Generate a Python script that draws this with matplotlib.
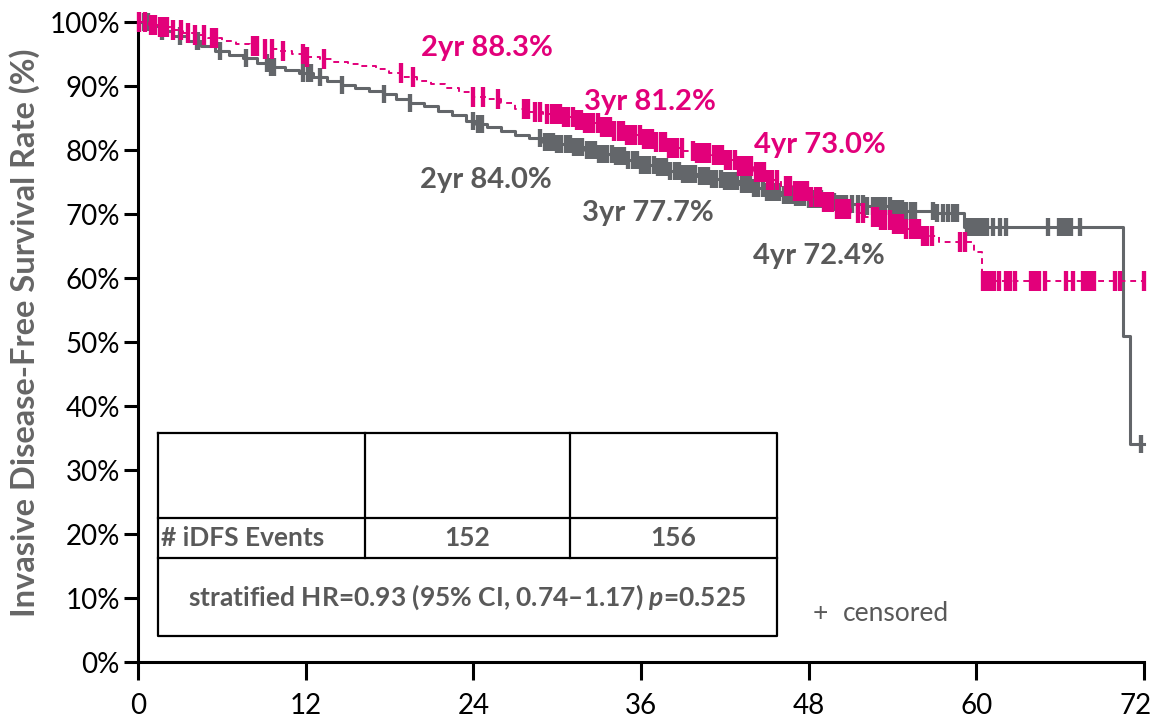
import numpy as np
import matplotlib.pyplot as plt
from matplotlib.transforms import ScaledTranslation

plt.rcParams['font.family'] = ['Lato', 'DejaVu Sans']
plt.rcParams['mathtext.fontset'] = 'custom'
plt.rcParams['mathtext.rm'] = 'Lato:bold'
plt.rcParams['mathtext.it'] = 'Lato:italic:bold'

PINK = "#E2007A"
GREY = "#63666A"
TEXT_GREY = "#595959"

# Kaplan-Meier step points (month, survival %)
grey_t = [0, 0.8, 1.5, 2.5, 3.5, 4.5, 5.5, 6.5, 7.5, 8.5, 9.5, 10.5, 11.5, 12.5,
          13.5, 14.5, 15.5, 16.5, 17.5, 18.5, 19.5, 20.5, 21.5, 22.5, 23.5, 24.2,
          25, 26, 27, 28, 29, 30, 31, 32, 33, 34, 35, 36, 37, 38, 39, 40, 41, 42,
          43, 44, 45, 46, 47, 48, 49, 50, 52, 54, 55, 57, 59.1, 70.5, 71.0, 72.0]
grey_s = [100, 99.3, 98.6, 97.8, 97.0, 96.3, 95.5, 94.9, 94.3, 93.6, 93.0, 92.5,
          92.0, 91.4, 90.8, 90.2, 89.7, 89.2, 88.7, 88.0, 87.4, 86.8, 86.1, 85.4,
          84.6, 84.0, 83.6, 83.0, 82.4, 81.8, 81.3, 80.9, 80.5, 80.0, 79.4, 79.0,
          78.5, 77.7, 77.3, 76.7, 76.2, 75.9, 75.5, 75.2, 74.7, 74.1, 73.5, 73.0,
          72.6, 72.4, 71.8, 71.5, 71.2, 70.8, 70.4, 70.1, 68.0, 51.0, 34.0, 34.0]

pink_t = [0, 0.8, 1.6, 2.4, 3.2, 4.0, 5, 6, 7, 8, 9, 10, 11, 12, 13, 14, 15, 16,
          17, 18, 19, 20, 21, 22, 23, 24, 25, 26, 27, 28, 29, 30.5, 31.2, 32, 33,
          34, 35, 36, 37, 38, 39, 40, 41, 42, 43, 44, 45, 46, 47, 48, 49, 50, 51,
          52, 53, 54, 55, 56, 57.3, 59.8, 60.4, 72.0]
pink_s = [100, 99.6, 99.2, 98.7, 98.3, 97.9, 97.5, 97.0, 96.6, 96.2, 95.8, 95.4,
          95.0, 94.6, 94.2, 93.8, 93.5, 93.1, 92.6, 92.0, 91.4, 90.8, 90.3, 89.7,
          89.1, 88.3, 88.0, 87.4, 86.4, 85.9, 85.6, 85.2, 84.7, 84.2, 83.6, 83.0,
          82.4, 81.7, 81.2, 80.3, 79.8, 79.5, 79.2, 78.4, 77.5, 76.5, 75.3, 74.4,
          73.6, 72.6, 71.8, 70.8, 70.2, 69.6, 69.0, 68.4, 67.6, 66.6, 65.6, 64.0,
          59.6, 59.6]

# censoring times (months)
grey_cens = [0.4, 0.7, 1.0, 1.7, 3.0, 4.2, 4.3, 5.9, 7.7, 9.2, 9.5, 9.7, 11.8,
             12.2, 12.4, 13.0, 14.6, 17.6, 19.5, 24.0, 24.3, 24.6,
             28.8, 29.1, 29.4, 29.7, 30.0, 30.3, 30.6, 30.9, 31.2, 31.5, 31.8,
             32.1, 32.4, 32.7, 33.0, 33.3, 33.6, 33.9, 34.2, 34.5, 34.8, 35.1,
             35.4, 35.7, 36.0, 36.3, 36.6, 36.9, 37.2, 37.5, 37.8, 38.1, 38.4,
             38.7, 39.0, 39.3, 39.6, 39.9, 40.2, 40.5, 40.8, 41.1, 41.4, 41.7,
             42.0, 42.3, 42.6, 42.9, 43.2, 43.5, 43.8, 44.1, 44.4, 44.7, 45.0,
             45.3, 45.6, 45.9, 46.2, 46.5, 46.8, 47.1, 47.4, 47.7, 48.0, 48.3,
             48.6, 48.9, 49.2, 49.5, 49.8, 50.1, 50.4, 50.7, 51.1, 51.5, 51.9,
             52.2, 52.6, 52.9, 53.2, 53.5, 53.8, 54.1, 54.4, 54.7, 55.0, 55.3,
             55.6, 56.9, 57.2, 57.6, 58.0, 58.3, 58.6, 59.3, 59.6, 59.9, 60.2,
             60.5, 60.8, 61.2, 61.7, 62.1, 65.1, 65.9, 66.2, 66.5, 66.8, 67.4,
             71.8]
pink_cens = [0.1, 0.5, 0.9, 1.2, 1.6, 1.8, 2.1, 2.5, 3.1, 3.6, 4.1, 4.7, 5.3,
             5.6, 8.2, 8.5, 9.1, 9.6, 10.4, 11.8, 12.1, 13.3, 18.8, 19.7, 24.0,
             24.7, 25.8, 27.6, 27.9, 28.4, 28.8, 29.3,
             29.6, 29.9, 30.2, 30.5, 30.8, 31.1, 31.4, 31.7, 32.0, 32.3, 32.6,
             32.9, 33.2, 33.5, 33.8, 34.1, 34.4, 34.7, 35.0, 35.3, 35.6, 35.9,
             36.2, 36.5, 36.8, 37.1, 37.4, 37.7, 38.0, 38.3, 38.6, 38.9, 39.7,
             40.0, 40.3, 40.6, 40.9, 41.2, 41.5, 41.8, 42.1, 42.4, 42.7, 43.0,
             43.3, 43.6, 43.9, 44.2, 44.5, 44.8, 45.1, 45.4, 45.7, 46.4, 46.7,
             47.0, 47.3, 47.6, 47.9, 48.2, 48.5, 48.8, 49.1, 49.4, 49.7, 50.0,
             50.3, 50.6, 50.9, 51.5, 51.9, 52.6, 52.9, 53.2, 53.5, 53.8, 54.1,
             54.4, 54.7, 55.0, 55.3, 55.6, 55.9, 56.2, 56.5, 56.8, 58.8, 59.2,
             60.5, 60.8, 61.0, 61.3, 61.6, 62.1, 62.4, 62.8, 63.9, 64.2, 64.5,
             64.9, 66.4, 66.9, 67.6, 67.9, 68.2, 68.4, 69.9, 70.3, 72.0]

# landmark annotations: (label, month, y %)
pink_labels = [("2yr 88.3%", 25.0, 95.9), ("3yr 81.2%", 36.65, 87.5),
               ("4yr 73.0%", 48.8, 80.8)]
grey_labels = [("2yr 84.0%", 24.9, 75.3), ("3yr 77.7%", 36.5, 70.2),
               ("4yr 72.4%", 48.7, 63.4)]

events = ["152", "156"]
hr_text = "stratified HR=0.93 (95% CI, 0.74\u20131.17) $\\mathit{p}$=0.525"

x_ticks = [0, 12, 24, 36, 48, 60, 72]
y_ticks = [0, 10, 20, 30, 40, 50, 60, 70, 80, 90, 100]


def step_at(times, surv, x):
    idx = np.searchsorted(times, x, side="right") - 1
    return np.asarray(surv)[idx]


fig = plt.figure(figsize=(11.51, 7.24), dpi=100)
ax = fig.add_axes([0.1199, 0.0856, 0.874, 0.884])

ax.step(grey_t, grey_s, where="post", color=GREY, lw=2.2, zorder=3,
        clip_on=False)
ax.step(pink_t, pink_s, where="post", color=PINK, lw=1.4, zorder=4,
        linestyle=(0, (3, 2.5)), clip_on=False)

ax.plot(grey_cens, step_at(grey_t, grey_s, grey_cens), linestyle="none",
        marker="|", ms=13, mew=3.1, color=GREY, zorder=3, clip_on=False)
ax.plot(pink_cens, step_at(pink_t, pink_s, pink_cens), linestyle="none",
        marker="|", ms=14, mew=3.1, color=PINK, zorder=5, clip_on=False)

for lab, x, y in pink_labels:
    ax.text(x, y, lab, color=PINK, fontsize=21, fontweight="bold",
            ha="center", va="center")
for lab, x, y in grey_labels:
    ax.text(x, y, lab, color=TEXT_GREY, fontsize=21, fontweight="bold",
            ha="center", va="center")

ax.set_xlim(0, 72)
ax.set_ylim(0, 100)
ax.set_xticks(x_ticks)
ax.set_yticks(y_ticks)
ax.set_yticklabels([f"{v}%" for v in y_ticks])
ax.tick_params(axis="x", direction="out", length=13, width=2.2,
               labelsize=20, pad=9)
ax.tick_params(axis="y", direction="out", length=10, width=2.2,
               labelsize=20, pad=3)
# keep the last x label inside the canvas
last = ax.get_xticklabels()[-1]
last.set_transform(last.get_transform() +
                   ScaledTranslation(-8 / 100, 0, fig.dpi_scale_trans))
for s in ["top", "right"]:
    ax.spines[s].set_visible(False)
for s in ["left", "bottom"]:
    ax.spines[s].set_linewidth(2.2)

ax.set_ylabel("Invasive Disease-Free Survival Rate (%)", fontsize=23.5,
              fontweight="bold", color="#666666")
ax.yaxis.set_label_coords(-0.097, 0.515)

# table box
tx = [0.0199, 0.2256, 0.4294, 0.6352]
ty = [0.3578, 0.225, 0.1625, 0.0406]
tr = ax.transAxes
kw = dict(color="black", lw=1.6, transform=tr, zorder=6)
ax.plot([tx[0], tx[3], tx[3], tx[0], tx[0]],
        [ty[0], ty[0], ty[3], ty[3], ty[0]], **kw)
ax.plot([tx[0], tx[3]], [ty[1], ty[1]], **kw)
ax.plot([tx[0], tx[3]], [ty[2], ty[2]], **kw)
for c in (tx[1], tx[2]):
    ax.plot([c, c], [ty[0], ty[2]], **kw)

ax.text(tx[0] + 0.003, (ty[1] + ty[2]) / 2, "# iDFS Events", transform=tr,
        fontsize=19, fontweight="bold", color=TEXT_GREY, ha="left",
        va="center")
for i, ev in enumerate(events):
    ax.text((tx[i + 1] + tx[i + 2]) / 2, (ty[1] + ty[2]) / 2, ev,
            transform=tr, fontsize=19, fontweight="bold", color=TEXT_GREY,
            ha="center", va="center")
ax.text((tx[0] + tx[3]) / 2, (ty[2] + ty[3]) / 2, hr_text, transform=tr,
        fontsize=19, fontweight="bold", color=TEXT_GREY, ha="center",
        va="center")

ax.text(0.678, 0.0766, "+", transform=tr, fontsize=19, color=TEXT_GREY,
        ha="center", va="center")
ax.text(0.7008, 0.0766, "censored", transform=tr, fontsize=19,
        color=TEXT_GREY, ha="left", va="center")

fig.savefig("out.png", dpi=100)
